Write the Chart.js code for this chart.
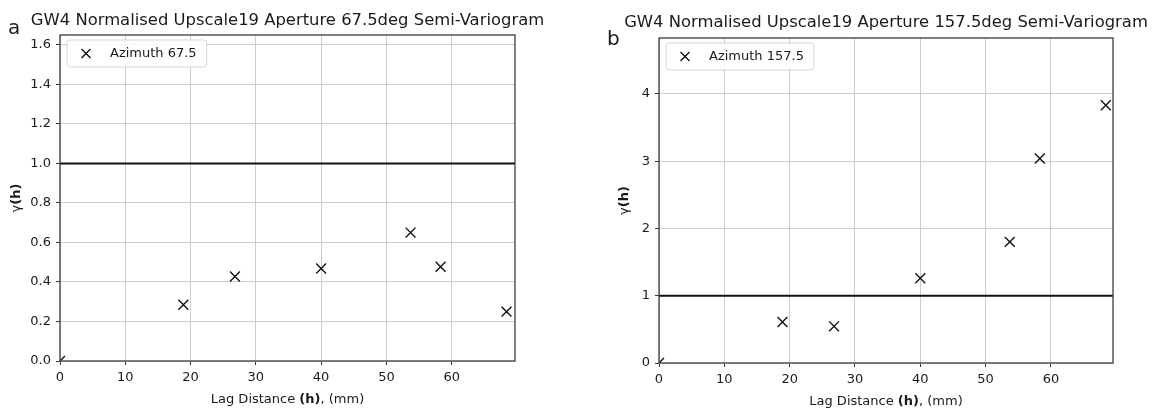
<!DOCTYPE html>
<html>
<head>
<meta charset="utf-8">
<script src="https://cdn.jsdelivr.net/npm/chart.js@4"></script>
<style>
body { margin: 0; background: #fff; }
.panel { position: absolute; top: 0; width: 576px; height: 412px; }
</style>
</head>
<body>
<div class="panel" style="left:0"><canvas id="chartA" width="576" height="412"></canvas></div>
<div class="panel" style="left:577px"><canvas id="chartB" width="576" height="412"></canvas></div>
<script>
// lag distances shared by both directions (mm)
var lagDistance = [0, 18.9, 26.8, 40, 53.7, 58.3, 68.4];
// normalised semi-variogram values
var gammaAz675 = [0, 0.285, 0.428, 0.468, 0.65, 0.477, 0.25];
var gammaAz1575 = [0, 0.61, 0.545, 1.26, 1.80, 3.04, 3.83];
// sill (normalised variance)
var sillValue = 1;
// tick labels
var xTicks = [0, 10, 20, 30, 40, 50, 60];
var yTicksA = [0, 0.2, 0.4, 0.6, 0.8, 1.0, 1.2, 1.4, 1.6];
var yTicksB = [0, 1, 2, 3, 4];

var FONT = '"DejaVu Sans", "Liberation Sans", sans-serif';

function drawMixed(ctx, parts, cx, cy, size) {
    var total = 0;
    parts.forEach(function (p) {
        ctx.font = (p[1] ? 'bold ' : '') + size + 'px ' + FONT;
        p.w = ctx.measureText(p[0]).width;
        total += p.w;
    });
    var x = cx - total / 2;
    ctx.textAlign = 'left';
    ctx.textBaseline = 'middle';
    parts.forEach(function (p) {
        ctx.font = (p[1] ? 'bold ' : '') + size + 'px ' + FONT;
        ctx.fillText(p[0], x, cy);
        x += p.w;
    });
}

// frame, titles, axis labels and the in-plot legend
var decor = {
    id: 'decor',
    afterDraw: function (chart, args, o) {
        var ctx = chart.ctx, a = chart.chartArea;
        ctx.save();
        ctx.strokeStyle = '#3c3c3c';
        ctx.lineWidth = 1.3;
        ctx.strokeRect(a.left, a.top, a.right - a.left, a.bottom - a.top);

        ctx.fillStyle = '#1a1a1a';
        ctx.font = '16.4px ' + FONT;
        ctx.textAlign = 'center';
        ctx.textBaseline = 'middle';
        ctx.fillText(o.title, (a.left + a.right) / 2, o.titleY);

        ctx.font = '20px ' + FONT;
        ctx.textAlign = 'left';
        ctx.fillText(o.letter, o.letterX, o.letterY);

        drawMixed(ctx, [['Lag Distance ', false], ['(h)', true], [', (mm)', false]],
            (a.left + a.right) / 2, a.bottom + 39, 13);

        // legend
        var label = chart.data.datasets[0].label;
        ctx.font = '13px ' + FONT;
        var lx = a.left + 7, ly = a.top + 5, lh = 27;
        var lw = 43 + ctx.measureText(label).width + 10;
        ctx.beginPath();
        ctx.roundRect(lx, ly, lw, lh, 3);
        ctx.fillStyle = 'rgba(255,255,255,0.85)';
        ctx.fill();
        ctx.strokeStyle = '#d6d6d6';
        ctx.lineWidth = 1;
        ctx.stroke();
        var mx = lx + 19, my = ly + lh / 2, r = 4.5;
        ctx.strokeStyle = '#111';
        ctx.lineWidth = 1.4;
        ctx.beginPath();
        ctx.moveTo(mx - r, my - r); ctx.lineTo(mx + r, my + r);
        ctx.moveTo(mx - r, my + r); ctx.lineTo(mx + r, my - r);
        ctx.stroke();
        ctx.fillStyle = '#1a1a1a';
        ctx.textAlign = 'left';
        ctx.textBaseline = 'middle';
        ctx.fillText(label, lx + 43, my);

        ctx.translate(o.yLabelX, (a.top + a.bottom) / 2);
        ctx.rotate(-Math.PI / 2);
        drawMixed(ctx, [['γ', false], ['(h)', true]], 0, 0, 13);
        ctx.restore();
    }
};

function makeChart(id, opts) {
    var ctx = document.getElementById(id).getContext('2d');
    return new Chart(ctx, {
        type: 'scatter',
        data: {
            datasets: [{
                label: opts.label,
                data: lagDistance.map(function (x, i) { return { x: x, y: opts.values[i] }; }),
                pointStyle: 'crossRot',
                pointRadius: 7,
                borderColor: '#111',
                borderWidth: 1.4
            }, {
                label: 'Sill',
                data: [{ x: 0, y: sillValue }, { x: opts.xMax, y: sillValue }],
                showLine: true,
                borderColor: '#111',
                borderWidth: 2,
                pointRadius: 0
            }]
        },
        options: {
            responsive: false,
            animation: false,
            events: [],
            layout: { padding: opts.padding },
            plugins: {
                legend: { display: false },
                tooltip: { enabled: false },
                decor: opts.decor
            },
            scales: {
                x: {
                    type: 'linear',
                    min: 0,
                    max: opts.xMax,
                    afterBuildTicks: function (s) { s.ticks = xTicks.map(function (v) { return { value: v }; }); },
                    afterFit: function (s) { s.height = opts.xAxisH; },
                    grid: { color: '#cdcdcd', tickLength: 4, tickColor: '#333' },
                    border: { display: false },
                    ticks: { font: { family: FONT, size: 13 }, color: '#1a1a1a', padding: 5, maxRotation: 0, autoSkip: false }
                },
                y: {
                    type: 'linear',
                    min: 0,
                    max: opts.yMax,
                    afterBuildTicks: function (s) { s.ticks = opts.yTicks.map(function (v) { return { value: v }; }); },
                    afterFit: function (s) { s.width = opts.yAxisW; },
                    grid: { color: '#cdcdcd', tickLength: 4, tickColor: '#333' },
                    border: { display: false },
                    ticks: {
                        font: { family: FONT, size: 13 }, color: '#1a1a1a', padding: 5, autoSkip: false,
                        callback: function (v) { return opts.yFmt(v); }
                    }
                }
            }
        },
        plugins: [decor]
    });
}

var chartA = makeChart('chartA', {
    label: 'Azimuth 67.5',
    values: gammaAz675,
    xMax: 69.7,
    yMax: 1.65,
    yTicks: yTicksA,
    yFmt: function (v) { return v.toFixed(1); },
    padding: { left: 0, right: 61, top: 35, bottom: 0 },
    yAxisW: 60,
    xAxisH: 51,
    decor: {
        title: 'GW4 Normalised Upscale19 Aperture 67.5deg Semi-Variogram',
        titleY: 21, letter: 'a', letterX: 8, letterY: 29, yLabelX: 17
    }
});

var chartB = makeChart('chartB', {
    label: 'Azimuth 157.5',
    values: gammaAz1575,
    xMax: 69.5,
    yMax: 4.83,
    yTicks: yTicksB,
    yFmt: function (v) { return String(v); },
    padding: { left: 0, right: 40, top: 38, bottom: 0 },
    yAxisW: 82,
    xAxisH: 49,
    decor: {
        title: 'GW4 Normalised Upscale19 Aperture 157.5deg Semi-Variogram',
        titleY: 22.5, letter: 'b', letterX: 30, letterY: 40, yLabelX: 48
    }
});
</script>
</body>
</html>
